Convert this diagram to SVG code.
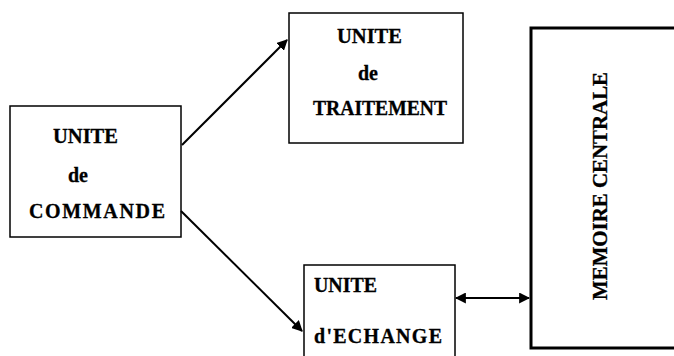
<svg xmlns="http://www.w3.org/2000/svg" width="674" height="356" viewBox="0 0 674 356">
<style>
.box{fill:#fff;stroke:#000;stroke-width:1.5}
.big{fill:#fff;stroke:#000;stroke-width:3}
.t{font-family:"Liberation Serif","Times New Roman",serif;font-weight:bold;font-size:20px;fill:#000;stroke:#000;stroke-width:0.3}
.c{stroke:#000;stroke-width:2;fill:none}
</style>
<defs>
<marker id="ah" viewBox="0 0 10 10" refX="9" refY="5" markerWidth="5.5" markerHeight="5.5" orient="auto-start-reverse" markerUnits="strokeWidth">
<path d="M0,0 L10,5 L0,10 z" fill="#000"/>
</marker>
</defs>
<rect width="674" height="356" fill="#fff"/>
<g id="commande">
<rect class="box" x="10" y="106" width="171" height="131"/>
<text class="t" x="53" y="143" textLength="65" lengthAdjust="spacingAndGlyphs">UNITE</text>
<text class="t" x="68" y="182">de</text>
<text class="t" x="29" y="218" textLength="136" lengthAdjust="spacing">COMMANDE</text>
</g>
<g id="traitement">
<rect class="box" x="289" y="13" width="174" height="130"/>
<text class="t" x="337" y="43" textLength="65" lengthAdjust="spacingAndGlyphs">UNITE</text>
<text class="t" x="358" y="80">de</text>
<text class="t" x="313" y="115" textLength="134" lengthAdjust="spacingAndGlyphs">TRAITEMENT</text>
</g>
<g id="echange">
<rect class="box" x="304" y="265" width="151" height="100"/>
<text class="t" x="314" y="292" textLength="63" lengthAdjust="spacingAndGlyphs">UNITE</text>
<text class="t" x="314" y="343" textLength="128" lengthAdjust="spacing">d'ECHANGE</text>
</g>
<g id="memoire">
<rect class="big" x="531" y="28" width="160" height="320"/>
<text class="t" transform="translate(607,186) rotate(-90)" text-anchor="middle" textLength="228" lengthAdjust="spacingAndGlyphs">MEMOIRE CENTRALE</text>
</g>
<g id="connectors">
<line class="c" x1="182" y1="145" x2="287" y2="40" marker-end="url(#ah)"/>
<line class="c" x1="181" y1="211" x2="302" y2="331" marker-end="url(#ah)"/>
<line class="c" x1="456" y1="298" x2="529" y2="298" marker-start="url(#ah)" marker-end="url(#ah)"/>
</g>
</svg>
